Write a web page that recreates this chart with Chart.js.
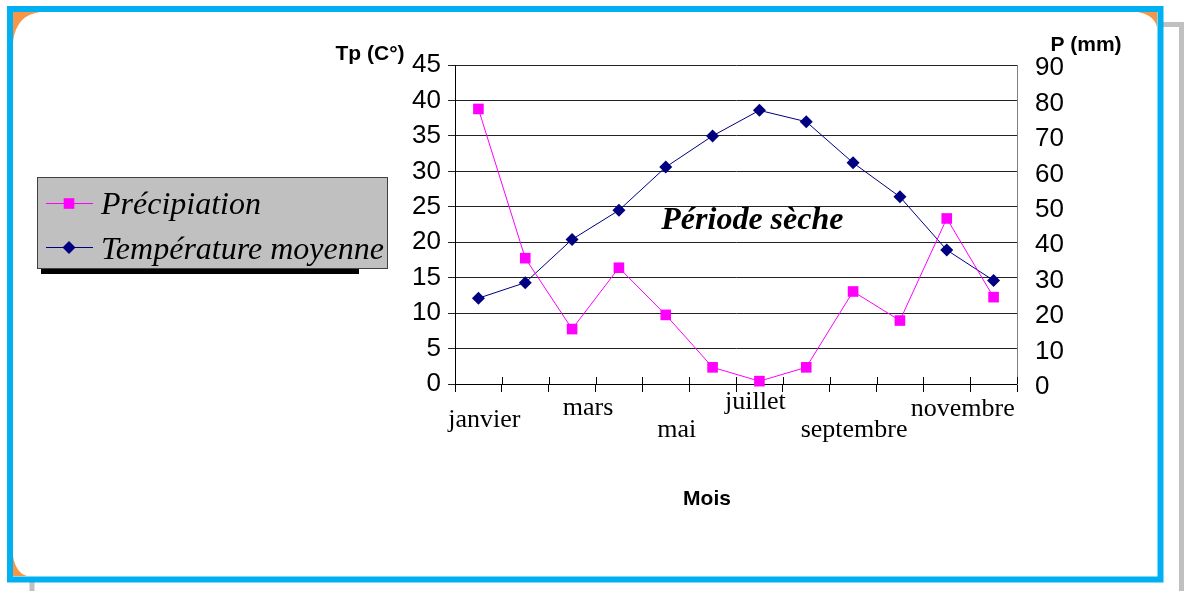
<!DOCTYPE html>
<html lang="fr">
<head>
<meta charset="utf-8">
<title>Diagramme ombrothermique</title>
<script src="https://cdn.jsdelivr.net/npm/chart.js@4.4.1/dist/chart.umd.min.js"></script>
<style>
  html, body { margin: 0; padding: 0; background: #fff; }
  #wrap { position: relative; width: 1188px; height: 591px; }
  canvas { display: block; }
</style>
</head>
<body>
<div id="wrap"><canvas id="climat" width="1188" height="591"></canvas></div>
<script>
const mois = ['janvier', 'février', 'mars', 'avril', 'mai', 'juin', 'juillet', 'août', 'septembre', 'octobre', 'novembre', 'décembre'];
const moisAffiches = [0, 2, 4, 6, 8, 10];
const temperature = [12.1, 14.3, 20.4, 24.5, 30.6, 35.0, 38.6, 37.0, 31.2, 26.4, 18.9, 14.6];   // °C
const precipitation = [77.6, 35.5, 15.5, 32.8, 19.5, 4.7, 0.8, 4.7, 26.1, 17.9, 46.7, 24.5];  // mm
const ticksTemp = [0, 5, 10, 15, 20, 25, 30, 35, 40, 45];
const ticksPluie = [0, 10, 20, 30, 40, 50, 60, 70, 80, 90];

const SANS = "'Liberation Sans', Arial, sans-serif";
const SERIF = "'Liberation Serif', 'Times New Roman', serif";
const ROSE = '#ff00ff';
const MARINE = '#000080';

// décalages des étiquettes de mois (disposition en quinconce comme Excel)
const etiqDx = [6, 16, 11, -4, 1, 16];
const etiqDy = [43, 31, 53, 25, 53, 32];

// Cadre bleu, ombre grise et coins orange
const cadrePlugin = {
    id: 'cadre',
    beforeDraw(chart) {
        const ctx = chart.ctx;
        ctx.save();
        ctx.fillStyle = '#fff';
        ctx.fillRect(0, 0, chart.width, chart.height);

        ctx.strokeStyle = '#c0c0c0';
        ctx.lineWidth = 5;
        ctx.strokeRect(32, 24.5, 1149.5, 600);

        ctx.fillStyle = '#fff';
        ctx.fillRect(10, 9, 1150, 570);
        ctx.strokeStyle = '#00b0f0';
        ctx.lineWidth = 6;
        ctx.strokeRect(10, 9, 1150.5, 570.5);

        ctx.fillStyle = '#f79646';
        ctx.beginPath();
        ctx.moveTo(13, 12); ctx.lineTo(40, 12); ctx.quadraticCurveTo(16, 15, 13, 42); ctx.closePath();
        ctx.fill();
        ctx.beginPath();
        ctx.moveTo(1157, 12); ctx.lineTo(1138, 12); ctx.quadraticCurveTo(1154, 15, 1157, 27); ctx.closePath();
        ctx.fill();
        ctx.beginPath();
        ctx.moveTo(13, 576); ctx.lineTo(27, 576); ctx.quadraticCurveTo(16, 573, 13, 556); ctx.closePath();
        ctx.fill();
        ctx.restore();
    }
};

// Titres d'axes, mois, légende et annotation
const habillagePlugin = {
    id: 'habillage',
    afterDraw(chart) {
        const ctx = chart.ctx;
        const x = chart.scales.x;
        const yT = chart.scales.yT;
        const area = chart.chartArea;
        ctx.save();

        // petites graduations qui traversent l'axe des x
        ctx.strokeStyle = '#000';
        ctx.lineWidth = 1;
        for (let i = 0; i <= mois.length; i++) {
            const px = Math.round(x.getPixelForValue(i - 0.5)) + 0.5;
            ctx.beginPath();
            ctx.moveTo(px, area.bottom - 7);
            ctx.lineTo(px, area.bottom);
            ctx.stroke();
        }

        // étiquettes des mois
        ctx.fillStyle = '#000';
        ctx.font = '26px ' + SERIF;
        ctx.textAlign = 'center';
        ctx.textBaseline = 'alphabetic';
        moisAffiches.forEach((idx, k) => {
            ctx.fillText(mois[idx], x.getPixelForValue(idx) + etiqDx[k], area.bottom + etiqDy[k]);
        });

        // titres d'axes
        ctx.font = 'bold 21px ' + SANS;
        ctx.textBaseline = 'middle';
        ctx.fillText('Tp (C°)', 370, 54);
        ctx.fillText('P (mm)', 1086, 45);
        ctx.fillText('Mois', 707, 499);

        // annotation
        ctx.font = 'italic bold 32px ' + SERIF;
        ctx.fillText('Période sèche', x.getPixelForValue(5.85), yT.getPixelForValue(23));

        // légende
        ctx.fillStyle = '#000';
        ctx.fillRect(41, 268, 318, 6);
        ctx.fillStyle = '#c0c0c0';
        ctx.fillRect(37, 177, 350, 91);
        ctx.strokeStyle = '#404040';
        ctx.strokeRect(37.5, 177.5, 350, 91);

        const rows = [
            { ds: chart.data.datasets[0], y: 203, base: 214 },
            { ds: chart.data.datasets[1], y: 247, base: 259 }
        ];
        rows.forEach(r => {
            ctx.strokeStyle = r.ds.borderColor;
            ctx.lineWidth = 1;
            ctx.beginPath();
            ctx.moveTo(46, r.y + 0.5);
            ctx.lineTo(93, r.y + 0.5);
            ctx.stroke();
            ctx.fillStyle = r.ds.pointBackgroundColor;
            Chart.helpers.drawPoint(ctx, {
                pointStyle: r.ds.pointStyle,
                radius: r.ds.pointRadius,
                rotation: 0,
                borderWidth: 0
            }, 69, r.y + 0.5);
            ctx.fillStyle = '#000';
            ctx.font = 'italic 32px ' + SERIF;
            ctx.textAlign = 'left';
            ctx.textBaseline = 'alphabetic';
            ctx.fillText(r.ds.label, 101, r.base);
        });

        ctx.restore();
    }
};

new Chart(document.getElementById('climat'), {
    type: 'line',
    data: {
        labels: mois,
        datasets: [
            {
                label: 'Précipiation',
                data: precipitation,
                yAxisID: 'yP',
                borderColor: ROSE,
                borderWidth: 1,
                pointStyle: 'rect',
                pointRadius: 7.5,
                pointBackgroundColor: ROSE,
                pointBorderWidth: 0,
                tension: 0,
                clip: false
            },
            {
                label: 'Température moyenne',
                data: temperature,
                yAxisID: 'yT',
                borderColor: MARINE,
                borderWidth: 1,
                pointStyle: 'rectRot',
                pointRadius: 6.5,
                pointBackgroundColor: MARINE,
                pointBorderWidth: 0,
                tension: 0,
                clip: false
            }
        ]
    },
    options: {
        responsive: false,
        animation: false,
        layout: { padding: { top: 65, left: 0, right: 0, bottom: 0 } },
        plugins: {
            legend: { display: false },
            tooltip: { enabled: false }
        },
        scales: {
            x: {
                type: 'category',
                offset: true,
                grid: { display: true, offset: true, drawOnChartArea: false, color: '#000', tickLength: 8 },
                border: { display: true, color: '#000' },
                ticks: { display: false },
                afterFit: s => { s.height = 207; }
            },
            yT: {
                position: 'left',
                min: ticksTemp[0],
                max: ticksTemp[ticksTemp.length - 1],
                afterBuildTicks: s => { s.ticks = ticksTemp.map(v => ({ value: v })); },
                grid: { color: '#222', tickLength: 7 },
                border: { color: '#000' },
                ticks: { color: '#000', padding: 7, font: { family: SANS, size: 26 } },
                afterFit: s => { s.width = 455; }
            },
            yP: {
                position: 'right',
                min: ticksPluie[0],
                max: ticksPluie[ticksPluie.length - 1],
                afterBuildTicks: s => { s.ticks = ticksPluie.map(v => ({ value: v })); },
                grid: { drawOnChartArea: false, drawTicks: false },
                border: { color: '#808080' },
                ticks: { color: '#000', padding: 18, labelOffset: 3, font: { family: SANS, size: 26 } },
                afterFit: s => { s.width = 171; }
            }
        }
    },
    plugins: [cadrePlugin, habillagePlugin]
});
</script>
</body>
</html>
